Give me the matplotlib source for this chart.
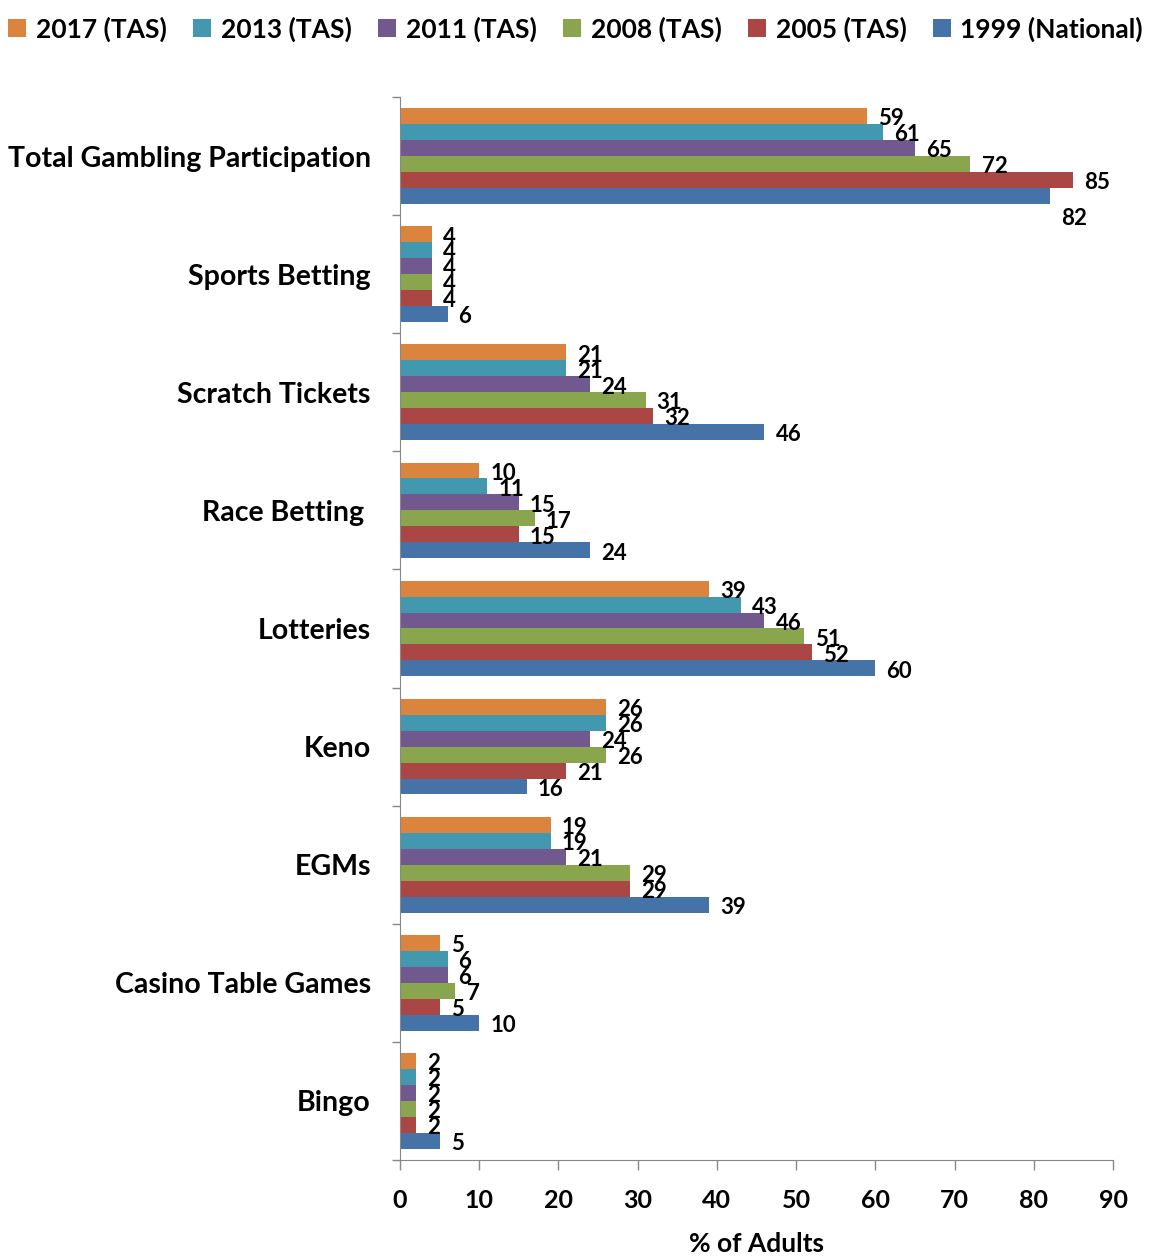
import numpy as np
from matplotlib import pyplot as plt

plt.rcParams['font.family'] = ['Lato', 'DejaVu Sans']

categories = ["Total Gambling Participation", "Sports Betting", "Scratch Tickets",
              "Race Betting ", "Lotteries", "Keno", "EGMs", "Casino Table Games", "Bingo"]

series_names = ["2017 (TAS)", "2013 (TAS)", "2011 (TAS)", "2008 (TAS)", "2005 (TAS)", "1999 (National)"]
tas_2017 = [59, 4, 21, 10, 39, 26, 19, 5, 2]
tas_2013 = [61, 4, 21, 11, 43, 26, 19, 6, 2]
tas_2011 = [65, 4, 24, 15, 46, 24, 21, 6, 2]
tas_2008 = [72, 4, 31, 17, 51, 26, 29, 7, 2]
tas_2005 = [85, 4, 32, 15, 52, 21, 29, 5, 2]
nat_1999 = [82, 6, 46, 24, 60, 16, 39, 10, 5]
series = [tas_2017, tas_2013, tas_2011, tas_2008, tas_2005, nat_1999]
colors = ["#DB843D", "#4198AF", "#71588F", "#89A54E", "#AA4643", "#4572A7"]

fig = plt.figure(figsize=(11.51, 12.59), dpi=100)
ax = fig.add_axes([0.3475, 0.0786, 0.6195, 0.8444])

n_cat = len(categories)
n_ser = len(series)
group = 0.81
bh = group / n_ser
# first category at the top, first series at the top of each group
cat_pos = np.arange(n_cat)[::-1]

for j, (name, vals, c) in enumerate(zip(series_names, series, colors)):
    y = cat_pos + group / 2 - bh * (j + 0.5)
    ax.barh(y, vals, height=bh, color=c, label=name, edgecolor='none')
    for yi, v in zip(y, vals):
        dy = 0
        if j == n_ser - 1 and v > 80:
            dy = -14  # keep the 82 clear of the 85 above it
        ax.annotate(str(v), (v, yi), xytext=(8, dy - 2), textcoords='offset points',
                    ha='left', va='center', fontsize=16, fontweight='bold')

ax.set_xlim(0, 90)
ax.set_ylim(-0.5, n_cat - 0.5)
ax.set_xticks(np.arange(0, 91, 10))
ax.tick_params(axis='x', length=7, width=1, color='#888888', labelsize=18, pad=14)
for lbl in ax.get_xticklabels():
    lbl.set_fontweight('bold')

ax.set_yticks(np.arange(-0.5, n_cat, 1.0))
ax.set_yticklabels([])
ax.tick_params(axis='y', which='major', length=6, width=1, color='#888888')
ax.set_yticks(cat_pos, minor=True)
ax.set_yticklabels(categories, minor=True, fontsize=20.5, fontweight='bold')
ax.tick_params(axis='y', which='minor', length=0, pad=21)

for s in ['top', 'right']:
    ax.spines[s].set_visible(False)
for s in ['left', 'bottom']:
    ax.spines[s].set_color('#888888')

ax.set_xlabel("% of Adults", fontsize=19, fontweight='bold', labelpad=14)

fig.legend(loc='upper center', bbox_to_anchor=(0.5, 1.006), ncol=6, frameon=False,
           prop={'size': 19, 'weight': 'bold'}, handlelength=0.7, handleheight=0.7,
           handletextpad=0.35, columnspacing=1.0)

fig.savefig("out.png", dpi=100)
